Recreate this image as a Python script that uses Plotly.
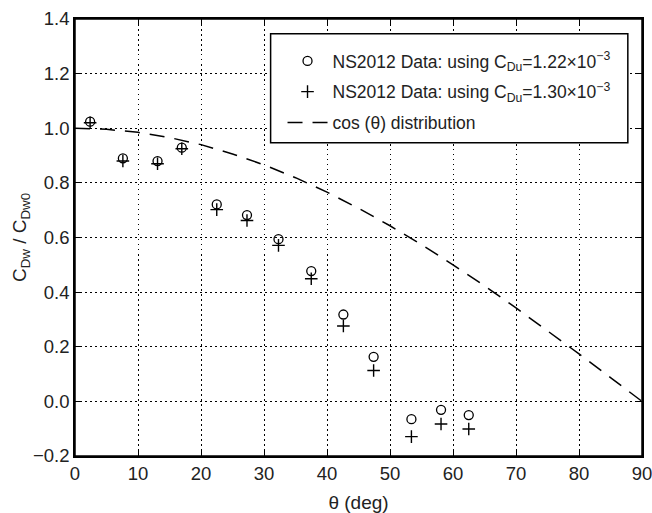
import plotly.graph_objects as go

# Data
theta = [2.4, 7.6, 13.1, 16.95, 22.5, 27.3, 32.3, 37.5, 42.6, 47.4, 53.4, 58.1, 62.5]
ratio_122 = [1.024, 0.890, 0.880, 0.929, 0.721, 0.682, 0.594, 0.477, 0.318, 0.163, -0.065, -0.031, -0.050]
ratio_130 = [1.020, 0.880, 0.870, 0.925, 0.702, 0.662, 0.571, 0.449, 0.276, 0.113, -0.129, -0.083, -0.101]

cos_theta = [0, 5, 10, 15, 20, 25, 30, 35, 40, 45, 50, 55, 60, 65, 70, 75, 80, 85, 90]
cos_vals = [1.0, 0.996, 0.985, 0.966, 0.940, 0.906, 0.866, 0.819, 0.766, 0.707,
            0.643, 0.574, 0.500, 0.423, 0.342, 0.259, 0.174, 0.087, 0.0]

x_ticks = [0, 10, 20, 30, 40, 50, 60, 70, 80, 90]
y_ticks = [-0.2, 0.0, 0.2, 0.4, 0.6, 0.8, 1.0, 1.2, 1.4]

FONT = "Liberation Sans, Arial, sans-serif"
TXT = "#222"

fig = go.Figure()
fig.add_trace(go.Scatter(
    x=theta, y=ratio_122, mode="markers", legendgroup="a",
    name="NS2012 Data: using C<sub>Du</sub>=1.22×10<sup>−3</sup>",
    marker=dict(symbol="circle-open", size=9, color="black", line=dict(width=1.3, color="black")),
))
fig.add_trace(go.Scatter(
    x=theta, y=ratio_130, mode="markers", legendgroup="b",
    name="NS2012 Data: using C<sub>Du</sub>=1.30×10<sup>−3</sup>",
    marker=dict(symbol="cross-thin-open", size=9, color="black", line=dict(width=1.4, color="black")),
))
fig.add_trace(go.Scatter(
    x=cos_theta, y=cos_vals, mode="lines", legendgroup="c",
    name="cos (θ) distribution",
    line=dict(color="black", width=1.5, dash="15px,10px"),
))

axis_common = dict(
    showgrid=True, gridcolor="black", gridwidth=1, griddash="1.5px,3.5px",
    showline=True, linecolor="black", linewidth=1.5, mirror="allticks",
    ticks="inside", ticklen=7, tickcolor="black", tickwidth=1,
    zeroline=False, automargin=False, ticklabeloverflow="allow",
    tickfont=dict(family=FONT, size=18.5, color=TXT),
)

fig.update_xaxes(range=[0, 90], tickvals=x_ticks,
                 title=dict(text="θ (deg)", font=dict(family=FONT, size=19, color=TXT), standoff=19),
                 **axis_common)
fig.update_yaxes(range=[-0.2, 1.4], tickvals=y_ticks, tickformat=".1f",
                 title=dict(text="C<sub>Dw</sub> / C<sub>Dw0</sub>", font=dict(family=FONT, size=19, color=TXT), standoff=1),
                 **axis_common)

# plot frame
fig.add_shape(type="rect", xref="paper", yref="paper", x0=0, x1=1, y0=0, y1=1,
              line=dict(color="black", width=1.5), fillcolor="rgba(0,0,0,0)", layer="above")

# legend frame (drawn as a shape so its padding matches the reference)
fig.add_shape(type="rect", xref="paper", yref="paper",
              x0=0.345, x1=0.975, y0=0.717, y1=0.966,
              line=dict(color="black", width=1.5), fillcolor="white", layer="above")

fig.update_layout(
    width=652, height=513,
    margin=dict(l=75, r=10, t=19, b=57),
    plot_bgcolor="white", paper_bgcolor="white",
    font=dict(family=FONT, color=TXT),
    legend=dict(
        x=0.366, y=0.945, xanchor="left", yanchor="top",
        bgcolor="rgba(0,0,0,0)", borderwidth=0,
        font=dict(family=FONT, size=17.5, color=TXT),
        itemwidth=40, tracegroupgap=5,
    ),
    showlegend=True,
)

fig.write_html(
    "out.html",
    config={"displayModeBar": False},
    post_script="document.body.style.margin='0';document.body.style.overflow='hidden';",
)
